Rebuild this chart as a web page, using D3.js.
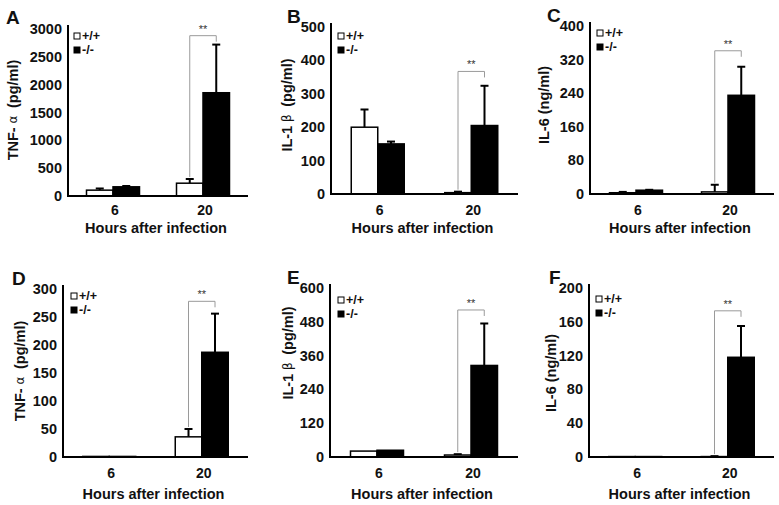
<!DOCTYPE html>
<html><head><meta charset="utf-8">
<script src="https://cdn.jsdelivr.net/npm/d3@7"></script>
<style>
body{margin:0;background:#fff;}
svg text{font-family:"Liberation Sans",Arial,sans-serif;font-weight:bold;fill:#111;}
</style></head>
<body><svg id="c" width="779" height="505"></svg>
<script>
// ---- data ----
const hours = ["6", "20"];
const seriesNames = ["+/+", "-/-"];
const panelLetters = ["A", "B", "C", "D", "E", "F"];
const yLabelMain = ["TNF-", "IL-1", "IL-6", "TNF-", "IL-1", "IL-6"];
const yLabelGreek = ["α", "β", "", "α", "β", ""];
const yLabelUnit = ["(pg/ml)", "(pg/ml)", "(ng/ml)", "(pg/ml)", "(pg/ml)", "(ng/ml)"];
const yMax = [3000, 500, 400, 300, 600, 200];
const yStep = [500, 100, 80, 50, 120, 40];
const wtMean = [[105, 230], [200, 4], [3, 5], [1, 36], [21, 7], [0.5, 0.5]];
const wtErr  = [[30, 75], [53, 3], [2, 17], [0, 14], [0, 3], [0, 0.5]];
const koMean = [[165, 1855], [150, 205], [9, 235], [1, 187], [24, 325], [0.5, 118]];
const koErr  = [[15, 865], [7, 119], [1, 68], [0, 69], [0, 149], [0, 37]];
const sigLevel = [2880, 367, 341, 278, 522, 173];
const sigText = "**";
const xTitle = "Hours after infection";

// ---- layout ----
const layout = [
  {x0:68, x1:248, y0:196, yTop:29, lx:6, ly:24, yl:[13,110], lg:[74,33], tickY:215, titleY:233},
  {x0:331, x1:518, y0:194, yTop:27, lx:287, ly:23, yl:[287,105], lg:[338,33], tickY:215, titleY:233},
  {x0:590, x1:774, y0:194, yTop:26, lx:547, ly:22, yl:[544,105], lg:[597,30], tickY:215, titleY:233},
  {x0:63, x1:248, y0:457, yTop:289, lx:12, ly:285, yl:[20,371], lg:[71,293], tickY:478, titleY:499},
  {x0:330, x1:518, y0:457, yTop:288, lx:287, ly:284, yl:[288,353], lg:[338,297], tickY:478, titleY:499},
  {x0:589, x1:774, y0:457, yTop:288, lx:549, ly:284, yl:[551,373], lg:[596,296], tickY:478, titleY:499}
];
const barW = 26.5;

const svg = d3.select("#c");

layout.forEach((L, i) => {
  const g = svg.append("g");
  const y = d3.scaleLinear().domain([0, yMax[i]]).range([L.y0, L.yTop]);
  const x = d3.scalePoint().domain(hours).range([L.x0, L.x1]).padding(0.5);
  const sub = d3.scaleBand().domain(seriesNames).range([-barW, barW]).padding(0);

  // y tick labels
  const ticks = d3.range(0, yMax[i] + yStep[i] / 2, yStep[i]);
  g.selectAll(".yt").data(ticks).join("text")
    .attr("x", L.x0 - 6).attr("y", d => y(d))
    .attr("text-anchor", "end").attr("dominant-baseline", "central")
    .style("font-size", "14.5px").text(d => d);

  // bars
  const rows = [];
  hours.forEach((h, j) => {
    rows.push({h, s: seriesNames[0], v: wtMean[i][j], e: wtErr[i][j]});
    rows.push({h, s: seriesNames[1], v: koMean[i][j], e: koErr[i][j]});
  });
  // error bars
  rows.forEach(r => {
    const cx = x(r.h) + sub(r.s) + sub.bandwidth() / 2;
    if (r.e > 0) {
      g.append("line").attr("x1", cx).attr("x2", cx)
        .attr("y1", y(r.v)).attr("y2", y(r.v + r.e))
        .attr("stroke", "#000").attr("stroke-width", 2);
      g.append("line").attr("x1", cx - 4).attr("x2", cx + 4)
        .attr("y1", y(r.v + r.e)).attr("y2", y(r.v + r.e))
        .attr("stroke", "#000").attr("stroke-width", 2);
    }
  });
  g.selectAll(".bar").data(rows).join("rect")
    .attr("x", r => x(r.h) + sub(r.s))
    .attr("y", r => y(r.v))
    .attr("width", sub.bandwidth())
    .attr("height", r => Math.max(0, L.y0 - y(r.v)))
    .attr("fill", r => r.s === seriesNames[0] ? "#fff" : "#000")
    .attr("stroke", "#000").attr("stroke-width", 1.5);

  // significance bracket at 20h
  const h2 = hours[1];
  const cW = x(h2) + sub(seriesNames[0]) + sub.bandwidth() / 2;
  const cK = x(h2) + sub(seriesNames[1]) + sub.bandwidth() / 2;
  const yS = y(sigLevel[i]);
  const yW = y(wtMean[i][1] + wtErr[i][1]) - 2;
  g.append("path")
    .attr("d", `M${cW},${yW}V${yS}H${cK}V${yS + 6}`)
    .attr("fill", "none").attr("stroke", "#9a9a9a").attr("stroke-width", 1);
  g.append("text").attr("x", (cW + cK) / 2).attr("y", yS - 3)
    .attr("text-anchor", "middle").style("font-size", "11px").style("font-weight", "normal")
    .style("fill", "#333").text(sigText);

  // axes
  g.append("line").attr("x1", L.x0).attr("x2", L.x0).attr("y1", L.y0 + 1).attr("y2", L.yTop - 4)
    .attr("stroke", "#000").attr("stroke-width", 2);
  g.append("line").attr("x1", L.x0 - 1).attr("x2", L.x1).attr("y1", L.y0).attr("y2", L.y0)
    .attr("stroke", "#000").attr("stroke-width", 2);

  // x tick labels
  g.selectAll(".xt").data(hours).join("text")
    .attr("x", d => x(d) + 2).attr("y", L.tickY)
    .attr("text-anchor", "middle").style("font-size", "14px").text(d => d);
  g.append("text").attr("x", (L.x0 + L.x1) / 2 - 2).attr("y", L.titleY)
    .attr("text-anchor", "middle").style("font-size", "14.5px").text(xTitle);

  // y label
  const yt = g.append("text")
    .attr("transform", `translate(${L.yl[0]},${L.yl[1]}) rotate(-90)`)
    .attr("text-anchor", "middle").attr("dominant-baseline", "central")
    .style("font-size", "14.5px");
  yt.append("tspan").text(yLabelMain[i]);
  if (yLabelGreek[i]) {
    yt.append("tspan").style("font-weight", "normal").style("font-family", "'DejaVu Sans'")
      .style("font-size", "12px").text("\u00a0" + yLabelGreek[i] + "\u00a0\u00a0");
  } else {
    yt.append("tspan").text("\u00a0");
  }
  yt.append("tspan").text(yLabelUnit[i]);

  // panel letter
  g.append("text").attr("x", L.lx).attr("y", L.ly).style("font-size", "19px").text(panelLetters[i]);

  // legend
  seriesNames.forEach((s, k) => {
    const ly = L.lg[1] + k * 14;
    g.append("rect").attr("x", L.lg[0]).attr("y", ly).attr("width", 6).attr("height", 6)
      .attr("fill", k === 0 ? "#fff" : "#000").attr("stroke", "#000").attr("stroke-width", 1);
    g.append("text").attr("x", L.lg[0] + 8).attr("y", ly + 3)
      .attr("dominant-baseline", "central").style("font-size", "12.5px").text(s);
  });
});
</script></body></html>
